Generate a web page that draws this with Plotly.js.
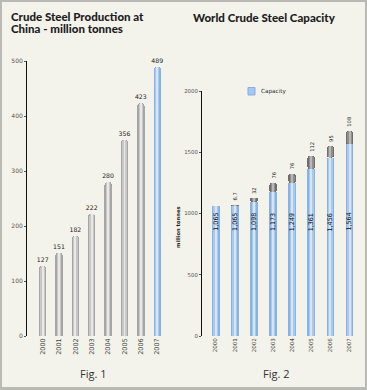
<!DOCTYPE html>
<html>
<head>
<meta charset="utf-8">
<script src="https://cdn.plot.ly/plotly-3.0.1.min.js"></script>
<style>
  html, body { margin: 0; padding: 0; background: #f3f2eb; }
  #wrap { position: relative; width: 367px; height: 390px; }
  #chart { width: 367px; height: 390px; }
  #frame { position: absolute; left: 0; top: 0; width: 367px; height: 390px; box-sizing: border-box;
           border: 2px solid #b9b9b6; border-bottom-width: 3px; pointer-events: none; }
</style>
</head>
<body>
<div id="wrap"><div id="chart"></div><div id="frame"></div></div>
<script>
// ---- data ----
const years = ['2000', '2001', '2002', '2003', '2004', '2005', '2006', '2007'];
const chinaProduction = [127, 151, 182, 222, 280, 356, 423, 489];
const worldCapacity = [1065, 1065, 1098, 1173, 1249, 1361, 1456, 1564];
const capacityAdded = [null, 6.7, 32, 76, 76, 112, 95, 108];
const fig1Ticks = [0, 100, 200, 300, 400, 500];
const fig2Ticks = [0, 500, 1000, 1500, 2000];

// ---- styling helpers ----
const W = 367, H = 390;
const px = v => 1 - v / H;      // pixel-from-top -> paper y
const pxX = v => v / W;         // pixel-from-left -> paper x

const GRAY = ['#a6a6a6', '#c8c8c8', '#e8e8e6'];
const BLUE = ['#88b1e4', '#abc9ef', '#d5e5f8'];
const DARK = ['#6e6e6e', '#8e8e8e', '#b8b8b8'];

function layers(xa, ya, y, base, palettes, width, radius, extra) {
  const scale = [1, 0.62, 0.26];
  return scale.map((s, k) => Object.assign({
    type: 'bar', x: years, y: y, base: base, xaxis: xa, yaxis: ya,
    width: width * s,
    marker: { color: palettes.map(p => p[k]), line: { width: 0 }, cornerradius: radius },
    hoverinfo: 'skip', showlegend: false
  }, k === 0 ? (extra || {}) : {}));
}

const fig1Pal = years.map((_, i) => i === years.length - 1 ? BLUE : GRAY);
const fig2BluePal = years.map(() => BLUE);
const fig2DarkPal = years.map(() => DARK);
const addedBase = worldCapacity.slice();

const traces = [
  ...layers('x', 'y', chinaProduction, undefined, fig1Pal, 0.45, '50%', {
    text: chinaProduction.map(String), textposition: 'outside', textangle: 0,
    constraintext: 'none', cliponaxis: false,
    textfont: { family: 'DejaVu Sans', size: 6.2, color: '#222' }
  }),
  ...layers('x2', 'y2', worldCapacity, 0, fig2BluePal, 0.4, 0),
  ...layers('x2', 'y2', capacityAdded, addedBase, fig2DarkPal, 0.4, '50%')
];

const titleFont = { family: 'Lato', size: 11.5, weight: 900, color: '#1e1e1e' };
const annotations = [];
// titles
annotations.push({ text: 'Crude Steel Production at', xref: 'paper', yref: 'paper', x: pxX(10), y: px(17),
  xanchor: 'left', yanchor: 'middle', showarrow: false, borderpad: 0, font: titleFont });
annotations.push({ text: 'China - million tonnes', xref: 'paper', yref: 'paper', x: pxX(10), y: px(29),
  xanchor: 'left', yanchor: 'middle', showarrow: false, borderpad: 0, font: titleFont });
annotations.push({ text: 'World Crude Steel Capacity', xref: 'paper', yref: 'paper', x: pxX(192), y: px(17.5),
  xanchor: 'left', yanchor: 'middle', showarrow: false, borderpad: 0, font: titleFont });
// figure captions
annotations.push({ text: 'Fig. 1', xref: 'paper', yref: 'paper', x: pxX(93), y: px(373.5),
  xanchor: 'center', yanchor: 'middle', showarrow: false,
  font: { family: 'Open Sans', size: 11, color: '#333' } });
annotations.push({ text: 'Fig. 2', xref: 'paper', yref: 'paper', x: pxX(276), y: px(373.5),
  xanchor: 'center', yanchor: 'middle', showarrow: false,
  font: { family: 'Open Sans', size: 11, color: '#333' } });
// y axis title for fig 2
annotations.push({ text: 'million tonnes', xref: 'paper', yref: 'paper', x: pxX(178), y: px(227),
  xanchor: 'center', yanchor: 'middle', showarrow: false, textangle: -90,
  font: { family: 'DejaVu Sans', size: 5.2, weight: 'bold', color: '#222' } });
// legend
annotations.push({ text: 'Capacity', xref: 'paper', yref: 'paper', x: pxX(259), y: px(91),
  xanchor: 'left', yanchor: 'middle', showarrow: false,
  font: { family: 'DejaVu Sans', size: 5.7, color: '#333' } });
// capacity labels inside bars and additions above (category axis -> use index)
years.forEach((yr, i) => {
  annotations.push({ text: worldCapacity[i].toLocaleString('en-US'), xref: 'x2', yref: 'y2', x: i, y: 930,
    xanchor: 'center', yanchor: 'middle', showarrow: false, textangle: -90,
    font: { family: 'DejaVu Sans', size: 6.4, color: '#111' } });
  if (capacityAdded[i] != null) {
    annotations.push({ text: String(capacityAdded[i]), xref: 'x2', yref: 'y2', x: i,
      y: worldCapacity[i] + capacityAdded[i],
      xanchor: 'center', yanchor: 'bottom', yshift: 2, showarrow: false, textangle: -90,
      font: { family: 'DejaVu Sans', size: 5.2, color: '#222' } });
  }
});

const shapes = [
  { type: 'rect', xref: 'paper', yref: 'paper', x0: pxX(248), x1: pxX(255), y0: px(95), y1: px(87.5),
    fillcolor: '#a8c7ee', line: { color: '#86afe3', width: 1 } }
];

const xCommon = {
  type: 'category', showline: false, zeroline: false, showgrid: false,
  ticks: '', tickangle: -90, fixedrange: true
};
const yCommon = {
  showline: true, linecolor: '#111', linewidth: 1, zeroline: false, showgrid: false,
  ticks: 'outside', ticklen: 2, tickcolor: '#555', tickformat: 'd', fixedrange: true
};

const layout = {
  width: W, height: H,
  margin: { l: 0, r: 0, t: 0, b: 0, pad: 0 },
  paper_bgcolor: '#f3f2eb', plot_bgcolor: 'rgba(0,0,0,0)',
  barmode: 'overlay', bargap: 0,
  showlegend: false,
  xaxis: Object.assign({}, xCommon, {
    domain: [pxX(27), pxX(167)], range: [-0.96, 7.6], anchor: 'y',
    tickfont: { family: 'DejaVu Sans', size: 6.5, color: '#444' }
  }),
  yaxis: Object.assign({}, yCommon, {
    domain: [px(336), px(61)], range: [0, 500], anchor: 'x',
    tickvals: fig1Ticks, ticktext: fig1Ticks.map(String),
    tickfont: { family: 'DejaVu Sans', size: 6, color: '#555' }
  }),
  xaxis2: Object.assign({}, xCommon, {
    domain: [pxX(202), pxX(361)], range: [-0.716, 7.6], anchor: 'y2',
    tickfont: { family: 'DejaVu Sans', size: 5.6, color: '#444' }
  }),
  yaxis2: Object.assign({}, yCommon, {
    domain: [px(336), px(91)], range: [0, 2000], anchor: 'x2',
    tickvals: fig2Ticks, ticktext: fig2Ticks.map(String),
    tickfont: { family: 'DejaVu Sans', size: 5.4, color: '#555' }
  }),
  annotations: annotations,
  shapes: shapes
};

Plotly.newPlot('chart', traces, layout, { staticPlot: true, displayModeBar: false });
</script>
</body>
</html>
